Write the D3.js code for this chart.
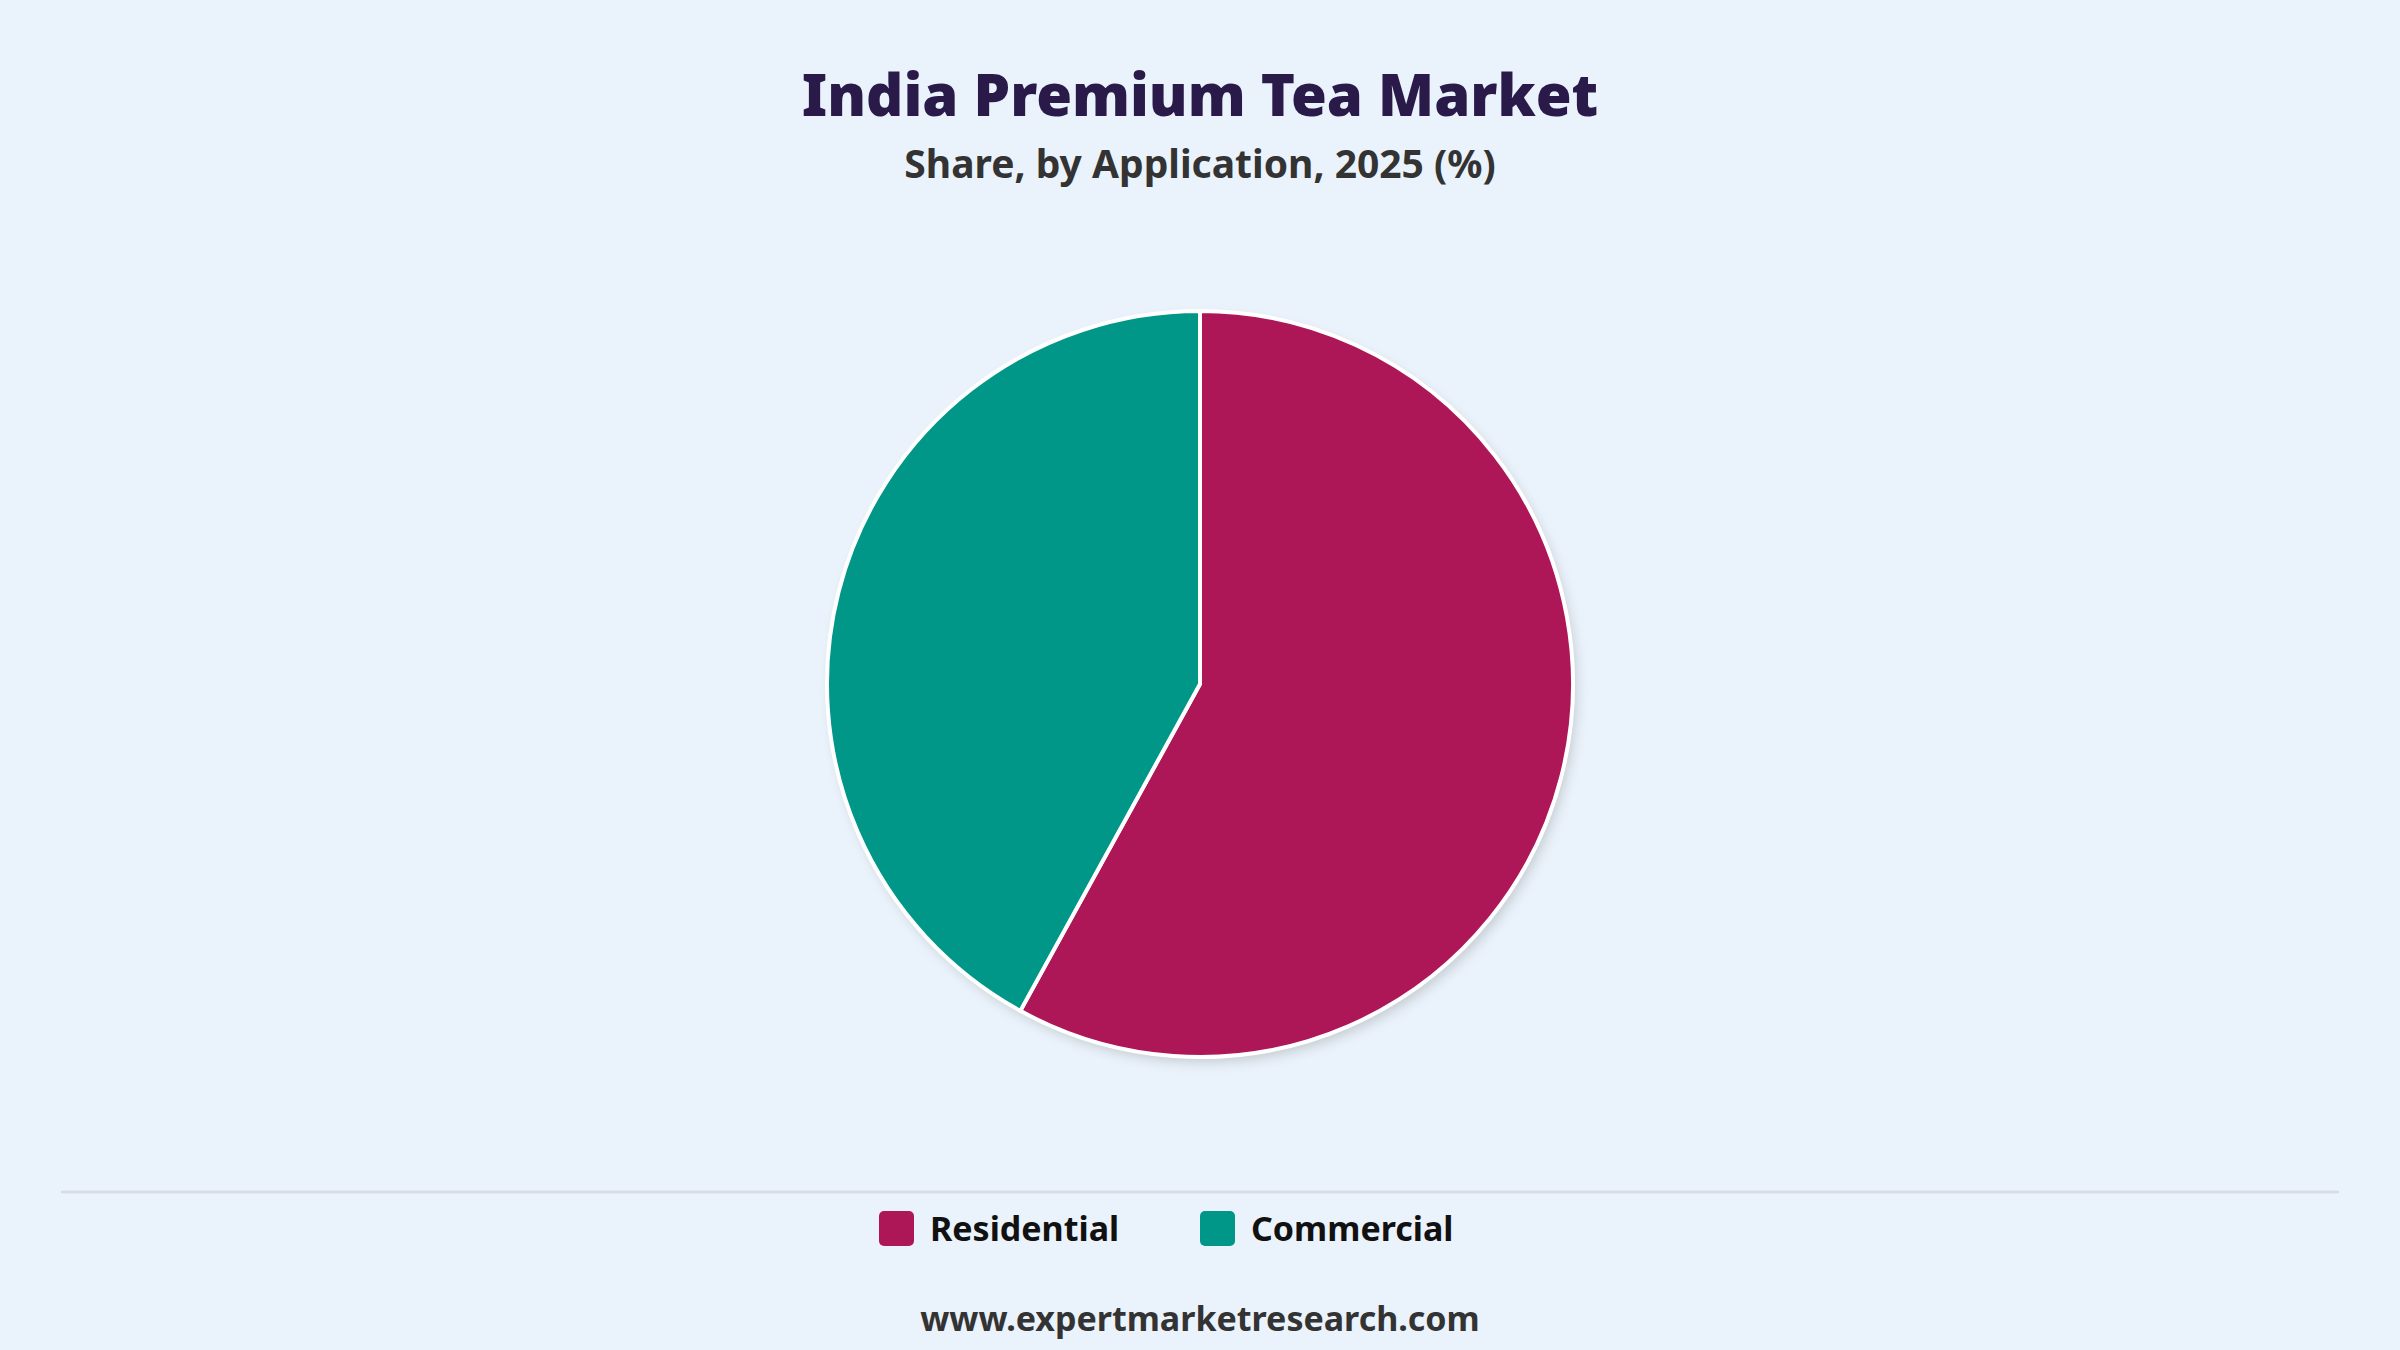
<!DOCTYPE html>
<html><head><meta charset="utf-8">
<script src="https://cdn.jsdelivr.net/npm/d3@7"></script>
<style>body{margin:0;background:#eaf2fb;}svg{display:block;}</style>
</head><body>
<svg id="c" width="2400" height="1350"></svg>
<script>
const categories = ["Residential", "Commercial"];
const values = [58, 42];
const colors = ["#ad1757", "#009688"];

const svg = d3.select("#c");
const W = 2400, H = 1350;
svg.append("rect").attr("width", W).attr("height", H).attr("fill", "#eaf2fb");
const font = "'Noto Sans', 'Open Sans', sans-serif";

svg.append("text").attr("x", W/2).attr("y", 116).attr("text-anchor", "middle")
  .attr("font-family", font).attr("font-weight", 900).attr("font-size", 58)
  .attr("fill", "#2a1a4a").text("India Premium Tea Market");
svg.append("text").attr("x", W/2).attr("y", 178).attr("text-anchor", "middle")
  .attr("font-family", font).attr("font-weight", 700).attr("font-size", 39)
  .attr("fill", "#333").text("Share, by Application, 2025 (%)");

const defs = svg.append("defs");
const f = defs.append("filter").attr("id", "sh").attr("x", "-20%").attr("y", "-20%").attr("width", "140%").attr("height", "140%");
f.append("feDropShadow").attr("dx", 4).attr("dy", 6).attr("stdDeviation", 6).attr("flood-color", "#000").attr("flood-opacity", 0.15);

const R = 373;
const g = svg.append("g").attr("transform", `translate(1200,684)`);
const pie = d3.pie().sort(null).value(d => d)(values);
const arc = d3.arc().innerRadius(0).outerRadius(R);
g.append("circle").attr("r", R).attr("fill", "#fff").attr("filter", "url(#sh)");
g.selectAll("path").data(pie).join("path").attr("d", arc)
  .attr("fill", (d, i) => colors[i]).attr("stroke", "#fff").attr("stroke-width", 4);

svg.append("line").attr("x1", 61).attr("x2", 2339).attr("y1", 1192).attr("y2", 1192)
  .attr("stroke", "#d8dde3").attr("stroke-width", 3);

const legX = [879, 1200];
const lg = svg.selectAll("g.leg").data(categories).join("g").attr("class", "leg")
  .attr("transform", (d, i) => `translate(${legX[i]},1211)`);
lg.append("rect").attr("width", 35).attr("height", 35).attr("rx", 5).attr("fill", (d, i) => colors[i]);
lg.append("text").attr("x", 51).attr("y", 30).attr("font-family", font).attr("font-weight", 700)
  .attr("font-size", 34).attr("fill", "#111").text(d => d);

svg.append("text").attr("x", W/2).attr("y", 1331).attr("text-anchor", "middle")
  .attr("font-family", font).attr("font-weight", 700).attr("font-size", 34)
  .attr("fill", "#333").text("www.expertmarketresearch.com");
</script>
</body></html>
